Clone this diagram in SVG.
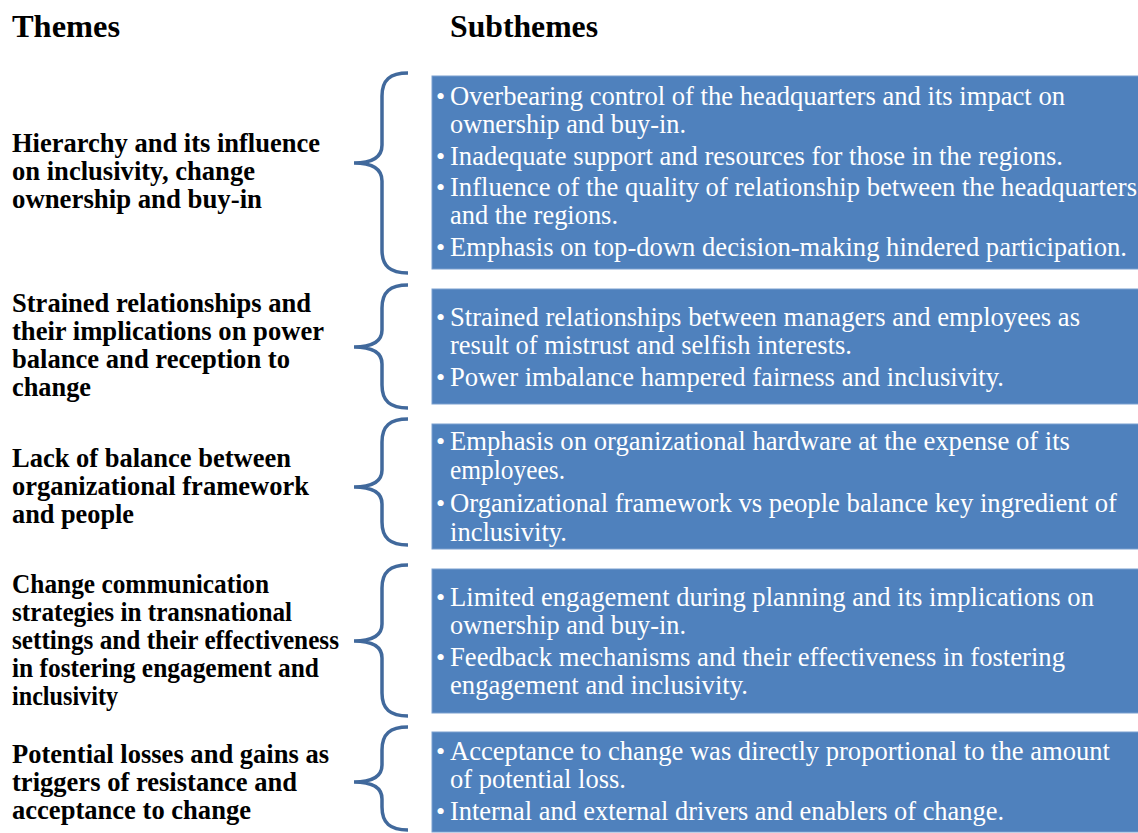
<svg xmlns="http://www.w3.org/2000/svg" width="1138" height="833" viewBox="0 0 1138 833">
<style>
.hd{font-family:"Liberation Serif",serif;font-weight:bold;font-size:32px;fill:#000}
.th{font-family:"Liberation Serif",serif;font-weight:bold;font-size:26.5px;fill:#000}
.st{font-family:"Liberation Serif",serif;font-size:26.7px;fill:#fff}
.bu{font-family:"Liberation Serif",serif;font-size:26px;fill:#fff}
.box{fill:#4f81bd;stroke:#7a9fcf;stroke-width:1}
.brace{fill:none;stroke:#41699c;stroke-width:3.5;stroke-linecap:butt}
</style>
<rect width="1138" height="833" fill="#fff"/>
<text class="hd" x="12" y="37" textLength="108" lengthAdjust="spacingAndGlyphs">Themes</text>
<text class="hd" x="450" y="37" textLength="148" lengthAdjust="spacingAndGlyphs">Subthemes</text>

<g id="theme1">
<text class="th" x="12" y="152" textLength="308" lengthAdjust="spacingAndGlyphs">Hierarchy and its influence</text>
<text class="th" x="12" y="180" textLength="243" lengthAdjust="spacingAndGlyphs">on inclusivity, change</text>
<text class="th" x="12" y="208" textLength="250" lengthAdjust="spacingAndGlyphs">ownership and buy-in</text>
</g>
<g id="theme2">
<text class="th" x="12" y="312" textLength="299" lengthAdjust="spacingAndGlyphs">Strained relationships and</text>
<text class="th" x="12" y="340" textLength="312" lengthAdjust="spacingAndGlyphs">their implications on power</text>
<text class="th" x="12" y="368" textLength="278" lengthAdjust="spacingAndGlyphs">balance and reception to</text>
<text class="th" x="12" y="396" textLength="79" lengthAdjust="spacingAndGlyphs">change</text>
</g>
<g id="theme3">
<text class="th" x="12" y="467" textLength="279" lengthAdjust="spacingAndGlyphs">Lack of balance between</text>
<text class="th" x="12" y="495" textLength="297" lengthAdjust="spacingAndGlyphs">organizational framework</text>
<text class="th" x="12" y="523" textLength="122" lengthAdjust="spacingAndGlyphs">and people</text>
</g>
<g id="theme4">
<text class="th" x="12" y="593" textLength="257" lengthAdjust="spacingAndGlyphs">Change communication</text>
<text class="th" x="12" y="621" textLength="280" lengthAdjust="spacingAndGlyphs">strategies in transnational</text>
<text class="th" x="12" y="649" textLength="327" lengthAdjust="spacingAndGlyphs">settings and their effectiveness</text>
<text class="th" x="12" y="677" textLength="307" lengthAdjust="spacingAndGlyphs">in fostering engagement and</text>
<text class="th" x="12" y="705" textLength="106" lengthAdjust="spacingAndGlyphs">inclusivity</text>
</g>
<g id="theme5">
<text class="th" x="12" y="763" textLength="317" lengthAdjust="spacingAndGlyphs">Potential losses and gains as</text>
<text class="th" x="12" y="791" textLength="285" lengthAdjust="spacingAndGlyphs">triggers of resistance and</text>
<text class="th" x="12" y="819" textLength="239" lengthAdjust="spacingAndGlyphs">acceptance to change</text>
</g>

<g id="connectors">
<path class="brace" d="M408,73 C390,73 382,80 382,96 L382,145 C382,156 374,163 354,163 C374,163 382,170 382,181 L382,250 C382,266 390,273 408,273"/>
<path class="brace" d="M408,285 C390,285 382,292 382,308 L382,330 C382,341 374,347 354,347 C374,347 382,353 382,364 L382,385 C382,401 390,408 408,408"/>
<path class="brace" d="M408,419 C390,419 382,426 382,442 L382,470 C382,481 374,487 354,487 C374,487 382,493 382,504 L382,522 C382,538 390,545 408,545"/>
<path class="brace" d="M408,565 C390,565 382,572 382,588 L382,624 C382,635 374,641 354,641 C374,641 382,647 382,658 L382,693 C382,709 390,716 408,716"/>
<path class="brace" d="M408,727 C390,727 382,734 382,750 L382,765 C382,776 374,782 354,782 C374,782 382,788 382,799 L382,807 C382,823 390,830 408,830"/>
</g>

<g id="sub1">
<rect class="box" x="432" y="76" width="710" height="193"/>
<text class="bu" x="436" y="105">•</text>
<text class="st" x="450" y="105" textLength="615" lengthAdjust="spacingAndGlyphs">Overbearing control of the headquarters and its impact on</text>
<text class="st" x="450" y="133" textLength="236" lengthAdjust="spacingAndGlyphs">ownership and buy-in.</text>
<text class="bu" x="436" y="165">•</text>
<text class="st" x="450" y="165" textLength="613" lengthAdjust="spacingAndGlyphs">Inadequate support and resources for those in the regions.</text>
<text class="bu" x="436" y="196">•</text>
<text class="st" x="450" y="196" textLength="687" lengthAdjust="spacingAndGlyphs">Influence of the quality of relationship between the headquarters</text>
<text class="st" x="450" y="224" textLength="168" lengthAdjust="spacingAndGlyphs">and the regions.</text>
<text class="bu" x="436" y="256">•</text>
<text class="st" x="450" y="256" textLength="677" lengthAdjust="spacingAndGlyphs">Emphasis on top-down decision-making hindered participation.</text>
</g>
<g id="sub2">
<rect class="box" x="432" y="289" width="710" height="115"/>
<text class="bu" x="436" y="326">•</text>
<text class="st" x="450" y="326" textLength="630" lengthAdjust="spacingAndGlyphs">Strained relationships between managers and employees as</text>
<text class="st" x="450" y="354" textLength="402" lengthAdjust="spacingAndGlyphs">result of mistrust and selfish interests.</text>
<text class="bu" x="436" y="386">•</text>
<text class="st" x="450" y="386" textLength="554" lengthAdjust="spacingAndGlyphs">Power imbalance hampered fairness and inclusivity.</text>
</g>
<g id="sub3">
<rect class="box" x="432" y="424" width="710" height="125"/>
<text class="bu" x="436" y="450">•</text>
<text class="st" x="450" y="450" textLength="620" lengthAdjust="spacingAndGlyphs">Emphasis on organizational hardware at the expense of its</text>
<text class="st" x="450" y="479" textLength="115" lengthAdjust="spacingAndGlyphs">employees.</text>
<text class="bu" x="436" y="512">•</text>
<text class="st" x="450" y="512" textLength="667" lengthAdjust="spacingAndGlyphs">Organizational framework vs people balance key ingredient of</text>
<text class="st" x="450" y="541" textLength="117" lengthAdjust="spacingAndGlyphs">inclusivity.</text>
</g>
<g id="sub4">
<rect class="box" x="432" y="569" width="710" height="144"/>
<text class="bu" x="436" y="606">•</text>
<text class="st" x="450" y="606" textLength="644" lengthAdjust="spacingAndGlyphs">Limited engagement during planning and its implications on</text>
<text class="st" x="450" y="634" textLength="236" lengthAdjust="spacingAndGlyphs">ownership and buy-in.</text>
<text class="bu" x="436" y="666">•</text>
<text class="st" x="450" y="666" textLength="615" lengthAdjust="spacingAndGlyphs">Feedback mechanisms and their effectiveness in fostering</text>
<text class="st" x="450" y="694" textLength="298" lengthAdjust="spacingAndGlyphs">engagement and inclusivity.</text>
</g>
<g id="sub5">
<rect class="box" x="432" y="732" width="710" height="100"/>
<text class="bu" x="436" y="760">•</text>
<text class="st" x="450" y="760" textLength="660" lengthAdjust="spacingAndGlyphs">Acceptance to change was directly proportional to the amount</text>
<text class="st" x="450" y="788" textLength="176" lengthAdjust="spacingAndGlyphs">of potential loss.</text>
<text class="bu" x="436" y="820">•</text>
<text class="st" x="450" y="820" textLength="554" lengthAdjust="spacingAndGlyphs">Internal and external drivers and enablers of change.</text>
</g>
</svg>
